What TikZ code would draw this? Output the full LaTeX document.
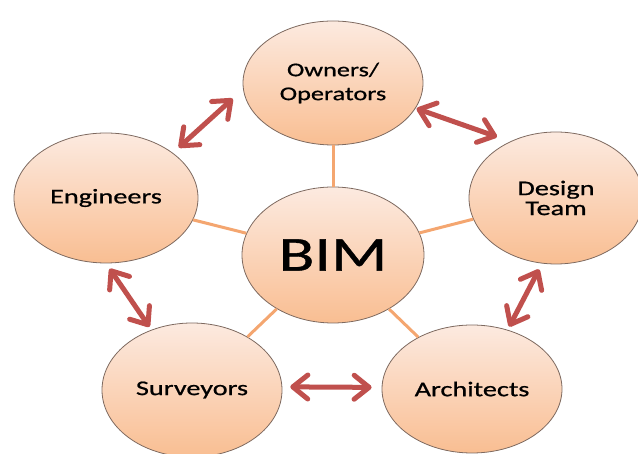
\documentclass[tikz,border=0pt]{standalone}
\usepackage{fontspec}
\setmainfont{Carlito}[FakeStretch=1.35, FakeBold=0.8]
\usetikzlibrary{arrows.meta, shapes.geometric}
\definecolor{peachTop}{RGB}{252,234,224}
\definecolor{peachBottom}{RGB}{249,190,146}
\definecolor{rimGray}{RGB}{125,105,95}
\definecolor{spokeOrange}{RGB}{244,166,112}
\definecolor{linkRed}{RGB}{192,80,77}

\begin{document}
\begin{tikzpicture}[x=1bp, y=1bp,
		party/.style={ellipse, draw=rimGray, line width=0.8bp, top color=peachTop, bottom color=peachBottom,
			inner sep=0pt, align=center, font=\fontsize{21}{24}\selectfont},
		spoke/.style={draw=spokeOrange, line width=3bp},
		twoway/.style={{Straight Barb[length=15bp, width=24bp, round]}-{Straight Barb[length=15bp, width=24bp, round]},
			draw=linkRed, line width=5bp, line cap=round}]
			\useasboundingbox (0,0) rectangle (638,454);
			
			% Stakeholders
			\node[party, minimum width=180bp, minimum height=124bp, font=\fontsize{19.5}{24}\selectfont] (Owners) at (333,371) {Owners/\\Operators};
			\node[party, minimum width=184bp, minimum height=130bp] (Engineers) at (106,256) {Engineers};
			\node[party, minimum width=174bp, minimum height=132bp, font=\fontsize{21}{20}\selectfont] (Design) at (556,256) {Design\\Team};
			\node[party, minimum width=180bp, minimum height=134bp] (Surveyors) at (192,64) {Surveyors};
			\node[party, minimum width=180bp, minimum height=128bp] (Architects) at (472,65) {Architects};
			
			% Hub
			\node[party, minimum width=182bp, minimum height=136bp, font=\fontsize{49}{50}\selectfont] (BIM) at (333,199) {BIM};
			
			% Spokes
			\draw[spoke] (BIM) -- (Owners);
			\draw[spoke] (BIM) -- (Engineers);
			\draw[spoke] (BIM) -- (Design);
			\draw[spoke] (BIM) -- (Surveyors);
			\draw[spoke] (BIM) -- (Architects);
			
			% Exchange arrows
			\draw[twoway, shorten <=8bp, shorten >=14bp] (Engineers.34) -- (Owners.184);
			\draw[twoway, shorten <=1bp, shorten >=14bp] (Owners.-17) -- (Design.129);
			\draw[twoway, shorten <=6.5bp, shorten >=3.5bp] (Engineers.270) -- (Surveyors.124);
			\draw[twoway, shorten <=6.5bp, shorten >=3.5bp] (Design.258) -- (Architects.59);
			\draw[twoway, shorten <=8bp, shorten >=10bp] (Surveyors.2) -- (Architects.179);
			
\end{tikzpicture}
\end{document}
